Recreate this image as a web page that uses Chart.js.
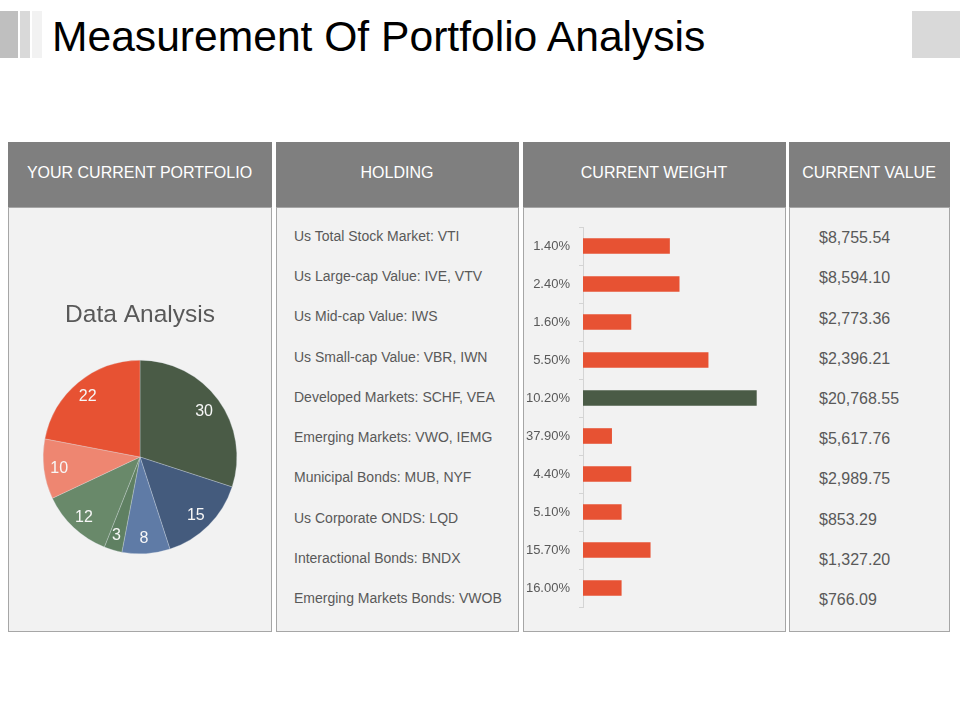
<!DOCTYPE html>
<html>
<head>
<meta charset="utf-8">
<title>Measurement Of Portfolio Analysis</title>
<script src="https://cdn.jsdelivr.net/npm/chart.js@4"></script>
<style>
    html, body { margin: 0; padding: 0; background: #fff; }
    body { position: relative; width: 960px; height: 720px; overflow: hidden; font-family: "Liberation Sans", Arial, sans-serif; }
    .block { position: absolute; top: 11px; height: 47px; }
    h1 { position: absolute; left: 52px; top: 11px; margin: 0; font-size: 42.6px; line-height: 50px; font-weight: normal; color: #000; white-space: nowrap; }
    .panel { position: absolute; top: 207px; height: 423px; background: #f2f2f2; border: 1px solid #a6a6a6; box-sizing: content-box; }
    .head { position: absolute; top: 142px; height: 65px; line-height: 61px; background: #7f7f7f; color: #fff; font-size: 16px; text-align: center; text-indent: -1px; white-space: nowrap; }
    .row { position: absolute; white-space: nowrap; transform: translateY(-50%); }
    .holding { left: 294px; font-size: 14px; color: #595959; }
    .value { left: 819px; font-size: 16px; color: #595959; }
    canvas { position: absolute; }
</style>
</head>
<body>
    <div class="block" style="left:0;width:18px;background:#bfbfbf"></div>
    <div class="block" style="left:20px;width:10px;background:#d9d9d9"></div>
    <div class="block" style="left:32px;width:10px;background:#f2f2f2"></div>
    <div class="block" style="left:912px;width:48px;background:#d9d9d9"></div>
    <h1>Measurement Of Portfolio Analysis</h1>

    <div class="panel" style="left:8px;width:262px"></div>
    <div class="panel" style="left:276px;width:241px"></div>
    <div class="panel" style="left:523px;width:261px"></div>
    <div class="panel" style="left:789px;width:159px"></div>

    <div class="head" style="left:8px;width:264px">YOUR CURRENT PORTFOLIO</div>
    <div class="head" style="left:276px;width:243px">HOLDING</div>
    <div class="head" style="left:523px;width:263px">CURRENT WEIGHT</div>
    <div class="head" style="left:789px;width:161px">CURRENT VALUE</div>

    <canvas id="pieChart" width="262" height="422" style="left:9px;top:208px"></canvas>
    <canvas id="barChart" width="262" height="422" style="left:524px;top:208px"></canvas>

<script>
// Pie
const pieValues = [30, 15, 8, 3, 12, 10, 22];
const pieColors = ["#4a5b46", "#445b7d", "#5f7ba6", "#5f8062", "#69896a", "#ee8671", "#e75233"];

// Bars
const weightLabels = ["1.40%", "2.40%", "1.60%", "5.50%", "10.20%", "37.90%", "4.40%", "5.10%", "15.70%", "16.00%"];
const barValues = [9, 10, 5, 13, 18, 3, 5, 4, 7, 4];
const barColors = ["#e75233", "#e75233", "#e75233", "#e75233", "#4a5b46", "#e75233", "#e75233", "#e75233", "#e75233", "#e75233"];

// Table columns
const holdings = [
    "Us Total Stock Market: VTI",
    "Us Large-cap Value: IVE, VTV",
    "Us Mid-cap Value: IWS",
    "Us Small-cap Value: VBR, IWN",
    "Developed Markets: SCHF, VEA",
    "Emerging Markets: VWO, IEMG",
    "Municipal Bonds: MUB, NYF",
    "Us Corporate ONDS: LQD",
    "Interactional Bonds: BNDX",
    "Emerging Markets Bonds: VWOB"
];
const currentValues = ["$8,755.54", "$8,594.10", "$2,773.36", "$2,396.21", "$20,768.55", "$5,617.76", "$2,989.75", "$853.29", "$1,327.20", "$766.09"];

// text rows of the two plain columns
const holdingRows = [236, 276, 316, 357, 397, 437, 477, 518, 558, 598];
const valueRows = [238, 278, 319, 359, 399, 439, 479, 520, 560, 600];

function addRows(texts, rows, className) {
    texts.forEach((text, i) => {
        const el = document.createElement("div");
        el.className = "row " + className;
        el.style.top = rows[i] + "px";
        el.textContent = text;
        document.body.appendChild(el);
    });
}
addRows(holdings, holdingRows, "holding");
addRows(currentValues, valueRows, "value");

// value labels inside the slices, no datalabels plugin here
const sliceLabels = {
    id: "sliceLabels",
    afterDatasetsDraw(chart) {
        const ctx = chart.ctx;
        ctx.save();
        ctx.font = '16px "Liberation Sans", Arial, sans-serif';
        ctx.fillStyle = "#f7f7f7";
        ctx.textAlign = "center";
        ctx.textBaseline = "middle";
        chart.getDatasetMeta(0).data.forEach((arc, i) => {
            const mid = (arc.startAngle + arc.endAngle) / 2;
            const r = arc.outerRadius * 0.83;
            ctx.fillText(pieValues[i], arc.x - 1 + Math.cos(mid) * r, arc.y + 1.5 + Math.sin(mid) * r);
        });
        ctx.restore();
    }
};

new Chart(document.getElementById("pieChart"), {
    type: "pie",
    data: {
        labels: pieValues.map(String),
        datasets: [{ data: pieValues, backgroundColor: pieColors, borderColor: "#dde3ea", borderWidth: 0.3 }]
    },
    options: {
        responsive: false,
        animation: false,
        layout: { padding: { top: 93, bottom: 76 } },
        plugins: {
            legend: { display: false },
            tooltip: { enabled: false },
            title: {
                display: true,
                text: "Data Analysis",
                color: "#595959",
                font: { family: '"Liberation Sans", Arial, sans-serif', size: 24.5, weight: "normal" },
                padding: { top: 0, bottom: 29.6 }
            }
        }
    },
    plugins: [sliceLabels]
});

new Chart(document.getElementById("barChart"), {
    type: "bar",
    data: {
        labels: weightLabels,
        datasets: [{ data: barValues, backgroundColor: barColors, categoryPercentage: 0.41, barPercentage: 1 }]
    },
    options: {
        responsive: false,
        animation: false,
        indexAxis: "y",
        layout: { padding: { top: 19, bottom: 23, right: 10 } },
        plugins: { legend: { display: false }, tooltip: { enabled: false } },
        scales: {
            x: { display: false, min: 0, max: 20 },
            y: {
                afterFit(scale) { scale.width = 59; },
                border: { color: "#d4d4d4" },
                grid: { drawOnChartArea: false, color: "#d4d4d4", tickLength: 4 },
                ticks: {
                    color: "#595959",
                    padding: 9,
                    font: { family: '"Liberation Sans", Arial, sans-serif', size: 13 }
                }
            }
        }
    }
});
</script>
</body>
</html>
